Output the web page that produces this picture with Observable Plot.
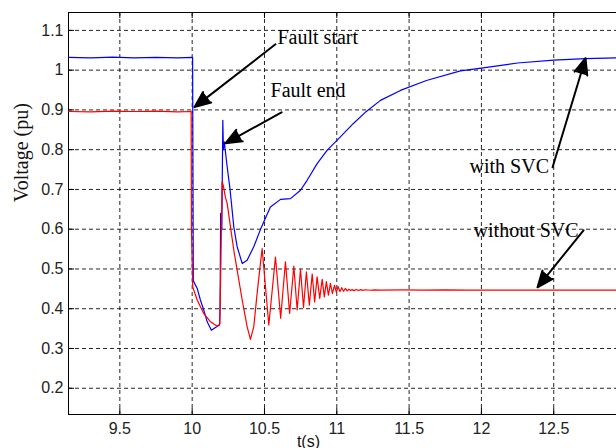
<!DOCTYPE html>
<html>
<head>
<meta charset="utf-8">
<script src="https://cdn.jsdelivr.net/npm/d3@7"></script>
<script src="https://cdn.jsdelivr.net/npm/@observablehq/plot@0.6"></script>
<style>
  html, body { margin: 0; padding: 0; background: #fff; }
  #chart { width: 616px; height: 448px; overflow: hidden; }
</style>
</head>
<body>
<div id="chart"></div>
<script>
// Bus voltage during a fault, with and without the static var compensator
const xDomain = [9.145, 12.934];
const yDomain = [0.134, 1.145];
const xTicks = [9.5, 10, 10.5, 11, 11.5, 12, 12.5];
const yTicks = [0.2, 0.3, 0.4, 0.5, 0.6, 0.7, 0.8, 0.9, 1.0, 1.1];

// With SVC (blue)
const blueTime = [9.145, 9.30, 9.45, 9.60, 9.75, 9.90, 10.003, 10.008, 10.035, 10.057,
  10.08, 10.104, 10.133, 10.161, 10.189, 10.193, 10.197, 10.205, 10.212, 10.216,
  10.222, 10.242, 10.262, 10.288, 10.311, 10.346, 10.38, 10.426, 10.472, 10.541,
  10.611, 10.68, 10.749, 10.795, 10.864, 10.934, 11.003, 11.115, 11.2, 11.302,
  11.44, 11.62, 11.855, 12.0, 12.25, 12.5, 12.72, 12.934];
const blueVolt = [1.032, 1.031, 1.033, 1.031, 1.032, 1.031, 1.032, 0.47, 0.451, 0.422,
  0.397, 0.367, 0.346, 0.353, 0.359, 0.40, 0.64, 0.60, 0.874, 0.80,
  0.82, 0.757, 0.70, 0.606, 0.556, 0.514, 0.522, 0.556, 0.599, 0.656,
  0.675, 0.677, 0.698, 0.723, 0.765, 0.799, 0.824, 0.866, 0.895, 0.924,
  0.949, 0.974, 0.998, 1.005, 1.018, 1.025, 1.029, 1.031];

// Without SVC (red)
const redTime = [9.145, 9.30, 9.45, 9.60, 9.75, 9.90, 9.993, 9.995, 10.004, 10.011,
  10.035, 10.08, 10.127, 10.173, 10.191, 10.198, 10.207, 10.215, 10.23, 10.242,
  10.288, 10.346, 10.38, 10.403, 10.426, 10.449, 10.472,
  10.484, 10.530, 10.576, 10.612, 10.645, 10.674, 10.703, 10.726, 10.749, 10.770,
  10.790, 10.810, 10.830, 10.847, 10.864, 10.882, 10.899, 10.914, 10.928, 10.942,
  10.956, 10.970, 10.984, 10.997, 11.009, 11.022, 11.034, 11.047, 11.060, 11.072,
  11.083, 11.095, 11.106,
  11.12, 11.135, 11.15, 11.165, 11.18, 11.2, 11.23, 11.26, 11.3, 11.45,
  11.6, 11.75, 11.9, 12.1, 12.934];
const redVolt = [0.896, 0.895, 0.897, 0.896, 0.897, 0.895, 0.896, 0.60, 0.455, 0.447,
  0.422, 0.388, 0.367, 0.356, 0.361, 0.50, 0.72, 0.71, 0.68, 0.665,
  0.547, 0.422, 0.355, 0.323, 0.355, 0.438, 0.514,
  0.551, 0.359, 0.530, 0.376, 0.518, 0.388, 0.507, 0.397, 0.499, 0.403,
  0.493, 0.409, 0.487, 0.417, 0.480, 0.426, 0.474, 0.430, 0.468, 0.434,
  0.464, 0.438, 0.459, 0.441, 0.456, 0.443, 0.453, 0.444, 0.451, 0.445,
  0.449, 0.446, 0.448,
  0.4455, 0.4485, 0.446, 0.448, 0.4462, 0.4478, 0.4465, 0.4475, 0.447, 0.4475,
  0.4468, 0.4476, 0.447, 0.447, 0.447];

// Annotations: label anchor and arrow from tail to tip
const noteText = ["Fault start", "Fault end", "with SVC", "without SVC"];
const noteX = [10.590, 10.542, 11.918, 11.946];
const noteY = [1.083, 0.948, 0.757, 0.596];
const arrowX1 = [10.576, 10.618, 12.492, 12.706];
const arrowY1 = [1.065, 0.894, 0.756, 0.597];
const arrowX2 = [10.016, 10.230, 12.720, 12.388];
const arrowY2 = [0.907, 0.816, 1.030, 0.454];

const xLabel = "t(s)";
const yLabel = "Voltage (pu)";

const W = 616, H = 448;
const mL = 68, mR = 0, mT = 12, mB = 34;
const plotW = W - mL - mR, plotH = H - mT - mB;
const tickLen = 6;

const blue = blueTime.map((t, i) => ({t, v: blueVolt[i]}));
const red = redTime.map((t, i) => ({t, v: redVolt[i]}));
const notes = noteText.map((text, i) => ({text, x: noteX[i], y: noteY[i]}));
const arrows = arrowX1.map((x1, i) => ({x1, y1: arrowY1[i], x2: arrowX2[i], y2: arrowY2[i]}));

const fmt = d => String(+d.toFixed(1));
const sans = "'Liberation Sans', Arial, Helvetica, sans-serif";
const serif = "'Liberation Serif', 'Times New Roman', serif";

const chart = Plot.plot({
  width: W,
  height: H,
  marginLeft: mL,
  marginRight: mR,
  marginTop: mT,
  marginBottom: mB,
  style: {background: "#fff", color: "#000", fontFamily: sans},
  x: {domain: xDomain, axis: null},
  y: {domain: yDomain, axis: null},
  marks: [
    Plot.gridX(xTicks, {stroke: "#000", strokeOpacity: 0.85, strokeDasharray: "4,3"}),
    Plot.gridY(yTicks, {stroke: "#000", strokeOpacity: 0.85, strokeDasharray: "4,3"}),
    // inward tick marks
    Plot.tickX(xTicks, {x: d => d, insetTop: plotH - tickLen, stroke: "#000"}),
    Plot.tickX(xTicks, {x: d => d, insetBottom: plotH - tickLen, stroke: "#000"}),
    Plot.tickY(yTicks, {y: d => d, insetRight: plotW - tickLen, stroke: "#000"}),
    // axes box (left, bottom, top)
    Plot.ruleX([xDomain[0]], {stroke: "#000"}),
    Plot.ruleY([yDomain[0], yDomain[1]], {stroke: "#000"}),
    Plot.axisX(xTicks, {tickSize: 0, tickPadding: 8, tickFormat: fmt, fontSize: 16, fill: "#222", label: null}),
    Plot.axisY(yTicks, {tickSize: 0, tickPadding: 5, tickFormat: fmt, fontSize: 16, fill: "#222", label: null}),
    // series
    Plot.line(blue, {x: "t", y: "v", stroke: "#0000ff", strokeWidth: 1.2}),
    Plot.line(red, {x: "t", y: "v", stroke: "#ff0000", strokeWidth: 1.2}),
    // annotations
    Plot.arrow(arrows, {x1: "x1", y1: "y1", x2: "x2", y2: "y2", stroke: "#000", fill: "#000",
      strokeWidth: 2, headLength: 13, headAngle: 45}),
    Plot.text(notes, {x: "x", y: "y", text: "text", textAnchor: "start", lineAnchor: "middle",
      fontFamily: serif, fontSize: 20, fill: "#000"}),
    // axis titles
    Plot.text([xLabel], {x: [10.804], frameAnchor: "bottom", dy: 32, text: d => d,
      fontFamily: sans, fontSize: 16, fill: "#111"}),
    Plot.text([yLabel], {y: [0.668], frameAnchor: "left", dx: -47, rotate: -90, text: d => d,
      fontFamily: serif, fontSize: 20, fill: "#111"})
  ]
});

document.getElementById("chart").appendChild(chart);
</script>
</body>
</html>
